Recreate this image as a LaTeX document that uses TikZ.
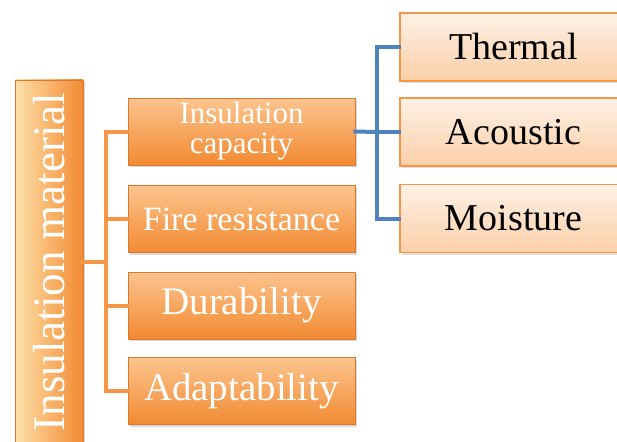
\documentclass[tikz,border=0pt]{standalone}
\usepackage{fontspec}
\setmainfont{Liberation Serif}
\usetikzlibrary{shadows}
\definecolor{accorange}{HTML}{F79646}
\definecolor{darkorange}{HTML}{F28A32}
\definecolor{lightorange}{HTML}{FCC48E}
\definecolor{rootlight}{HTML}{FEE0A8}
\definecolor{edgeorange}{HTML}{D9782E}
\definecolor{leaftop}{HTML}{FEF1E6}
\definecolor{leafbottom}{HTML}{FBCFA8}
\definecolor{accblue}{HTML}{4F81BD}
\tikzset{
 mainbox/.style={draw=edgeorange,line width=.6pt,text=white,inner sep=0pt,
   left color=rootlight,right color=darkorange,
   drop shadow={opacity=.3,shadow xshift=2pt,shadow yshift=-2pt}},
 subbox/.style={draw=edgeorange,line width=.6pt,text=white,align=center,inner sep=0pt,
   minimum width=227pt,minimum height=67pt,top color=lightorange,bottom color=darkorange,
   drop shadow={opacity=.3,shadow xshift=2pt,shadow yshift=-2pt}},
 leafbox/.style={draw=accorange,line width=1.2pt,text=black,inner sep=0pt,
   minimum width=227pt,minimum height=68pt,top color=leaftop,bottom color=leafbottom,
   drop shadow={opacity=.25,shadow xshift=2pt,shadow yshift=-2pt}},
 orangeline/.style={draw=accorange,line width=4pt,line cap=rect},
 blueline/.style={draw=accblue,line width=4pt,line cap=rect}
}
\begin{document}
\begin{tikzpicture}[x=1pt,y=-1pt]
\useasboundingbox (0,0) rectangle (617,441);
\node[mainbox,minimum width=68pt,minimum height=364pt] (root) at (49,262)
    {\rotatebox{90}{\fontsize{45}{45}\selectfont Insulation material}};
\coordinate (obus) at (106,262);
\coordinate (bbus) at (377,132);
\foreach \n/\y/\s [count=\i] in {Insulation\\capacity/131.5/31, Fire resistance/219/34,
    Durability/305.5/39, Adaptability/391/39}
\node[subbox,font=\fontsize{\s}{30}\selectfont] (c\i) at (241.5,\y) {\n};
\foreach \n/\y [count=\i] in {Thermal/47, Acoustic/132, Moisture/218.5}
\node[leafbox,font=\fontsize{38}{38}\selectfont] (r\i) at (513.5,\y) {\n};
% orange bus
\draw[orangeline] (root.east) -- (obus);
\draw[orangeline] (obus |- c1.west) -- (obus |- c4.west);
\foreach \i in {1,...,4}
  \draw[orangeline] (obus |- c\i.west) -- (c\i.west);
% blue bus
\draw[blueline] (c1.east) -- (bbus);
\draw[blueline] (bbus |- r1.west) -- (bbus |- r3.west);
\foreach \i in {1,...,3}
  \draw[blueline] (bbus |- r\i.west) -- (r\i.west);
\end{tikzpicture}
\end{document}
